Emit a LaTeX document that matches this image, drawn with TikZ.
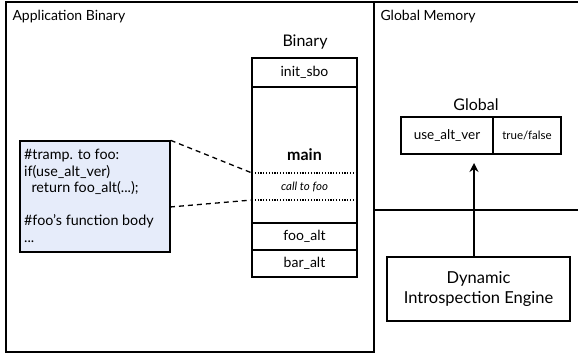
\documentclass[tikz,border=0pt]{standalone}
\usepackage{fontspec}
\setmainfont{Lato}
\usetikzlibrary{arrows.meta}
\definecolor{codebg}{HTML}{E6ECFA}
\newcommand{\fsCell}{\fontsize{14}{16}\selectfont}
\newcommand{\fsHdr}{\fontsize{14}{16}\selectfont}
\newcommand{\fsTtl}{\fontsize{16}{19}\selectfont}
\tikzset{
  frame/.style={draw,line width=1.3pt},
  cell/.style={draw,line width=1.3pt,minimum width=105pt,inner sep=0pt,font=\fsCell},
  hdr/.style={anchor=west,font=\fsHdr},
  ttl/.style={font=\fsTtl},
  dsh/.style={line width=1.3pt,dash pattern=on 5pt off 4pt},
  dot/.style={line width=1.1pt,dash pattern=on 1.2pt off 1.6pt}}
\begin{document}
\begin{tikzpicture}[x=1pt,y=-1pt]
\useasboundingbox (0,0) rectangle (578,356);
% frames
\draw[frame] (6,2) rectangle (374,352);
\draw[frame] (374,2) -- (580,2);
\draw[frame] (374,210) -- (580,210);
\node[hdr] (apphdr) at (9,17) {Application Binary};
\node[hdr] (glbhdr) at (377,17) {Global Memory};
% binary column
\node[ttl] (bintitle) at (305,42) {Binary};
\node[cell,minimum height=29pt] (init) at (304.5,72.5) {init\_sbo};
\node[cell,minimum height=136pt] (mainbox) at (304.5,155) {};
\node[font=\fontsize{16}{18}\selectfont\bfseries] (mainlbl) at (304.5,155) {main};
\node[font=\fontsize{11.5}{13}\selectfont\itshape] (calllbl) at (304.5,187) {call to foo};
\coordinate (d1l) at (252,173);
\coordinate (d1r) at (357,173);
\coordinate (d2l) at (252,200);
\coordinate (d2r) at (357,200);
\draw[dot] (d1l) -- (d1r);
\draw[dot] (d2l) -- (d2r);
\node[cell,minimum height=27pt] (fooalt) at (304.5,236.5) {foo\_alt};
\node[cell,minimum height=27pt] (baralt) at (304.5,263.5) {bar\_alt};
% code box
\node[draw,line width=1.3pt,fill=codebg,minimum width=150pt,minimum height=111pt,inner sep=0pt] (code) at (95,196.5) {};
\node[anchor=north west,align=left,inner sep=0pt,font=\fontsize{14.3}{16.5}\selectfont] (codetxt) at (24,149)
  {\#tramp. to foo:\\if(use\_alt\_ver)\\\ \ return foo\_alt(...);\\[16.5pt]\#foo’s function body\\...};
\coordinate (c2) at (170,207);
\draw[dsh] (code.north east) -- (d1l);
\draw[dsh] (c2) -- (d2l);
% global
\node[ttl] (gtitle) at (476,105) {Global};
\node[draw,line width=1.3pt,minimum width=92pt,minimum height=37pt,inner sep=0pt,font=\fontsize{13.5}{15}\selectfont] (usealt) at (447,135.5) {use\_alt\_ver};
\node[draw,line width=1.3pt,minimum width=68pt,minimum height=37pt,inner sep=0pt,font=\fontsize{11.5}{13}\selectfont] (tf) at (527,135.5) {true/false};
% engine
\node[draw,line width=1.3pt,minimum width=183pt,minimum height=64pt,align=center,font=\fontsize{16.5}{20}\selectfont] (die) at (478.5,289) {Dynamic\\Introspection Engine};
\coordinate (arrtop) at (474,163);
\draw[line width=2.4pt,-{Stealth[length=9pt,width=9pt]}] (die.north -| arrtop) -- (arrtop);
\end{tikzpicture}
\end{document}
